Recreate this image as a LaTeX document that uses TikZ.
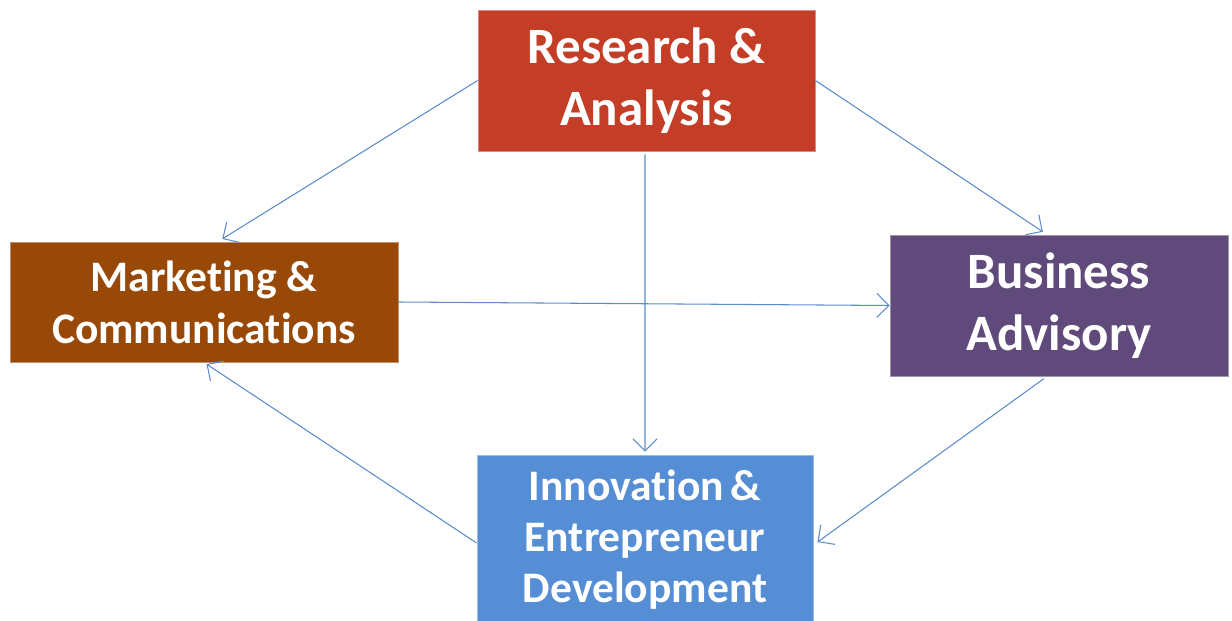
\documentclass[tikz,border=0pt]{standalone}
\usepackage{fontspec}
\setmainfont{Carlito}[Ligatures=NoCommon]
\usetikzlibrary{arrows.meta}
\definecolor{cRA}{HTML}{C43E27}
\definecolor{cMC}{HTML}{984807}
\definecolor{cBA}{HTML}{604A7B}
\definecolor{cIE}{HTML}{558ED5}
\definecolor{cArr}{HTML}{5B8BCB}
\tikzset{
  box/.style={rectangle, inner sep=0pt, align=center, text=white, font=\bfseries, line width=0.5pt},
  conn/.style={draw=cArr, line width=0.6pt, -{Straight Barb[length=2.4mm,width=4.8mm,line width=0.6pt]}}
}
\begin{document}
\begin{tikzpicture}[x=0.02cm,y=-0.02cm]
\useasboundingbox (0,0) rectangle (1232,621);
\node[box, fill=cRA, draw=cRA!60!white, minimum width=6.74cm, minimum height=2.82cm,
  font=\bfseries\fontsize{29}{35.5}\selectfont] (ra) at (646.5,80.5) {Research \&\\Analysis};
\node[box, fill=cMC, draw=cMC!60!white, minimum width=7.76cm, minimum height=2.4cm,
  font=\bfseries\fontsize{24.8}{29.5}\selectfont] (mc) at (204,302) {Marketing \&\\Communications};
\node[box, fill=cBA, draw=cBA!60!white, minimum width=6.76cm, minimum height=2.82cm,
  font=\bfseries\fontsize{29}{35.5}\selectfont] (ba) at (1059,305.5) {Business\\Advisory};
\node[box, fill=cIE, draw=cIE!60!white, minimum width=6.72cm, minimum height=3.4cm,
  font=\bfseries\fontsize{24.8}{29}\selectfont] (ie) at (645,540) {Innovation\hspace{0.15em}\&\\Entrepreneur\\Development};
\draw[conn, shorten >=0.1cm] (ra.west) -- ([xshift=0.28cm]mc.north);
\draw[conn, shorten >=0.1cm] (ra.east) -- ([xshift=-0.24cm]ba.north);
\draw[conn, shorten <=0.06cm, shorten >=0.06cm] ([xshift=-0.03cm]ra.south) -- (ie.north);
\draw[conn] (mc.east) -- (ba.west);
\draw[conn, shorten <=0.08cm, shorten >=0.1cm] ([xshift=-0.24cm]ba.south) -- ([yshift=-0.1cm]ie.east);
\draw[conn, shorten >=0.06cm] ([yshift=-0.06cm]ie.west) -- (mc.south);
\end{tikzpicture}
\end{document}
